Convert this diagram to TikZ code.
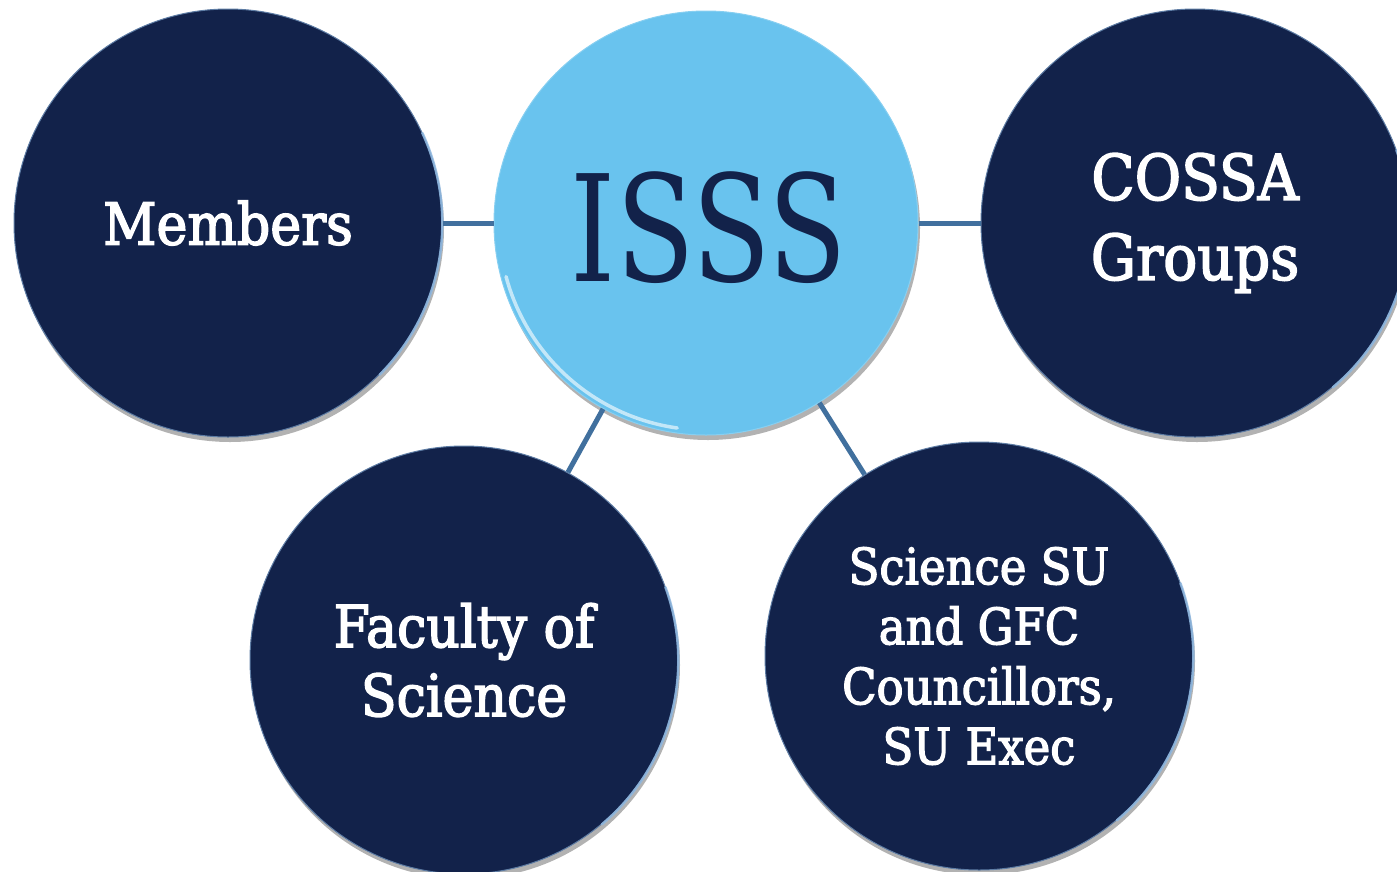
\documentclass[tikz,border=0pt]{standalone}
\usepackage{fontspec}
\usepackage{graphicx}
\setmainfont{DejaVu Serif Condensed}
\newfontfamily\semibold[FakeBold=2.5]{DejaVu Serif Condensed}
\usetikzlibrary{shadows}
\definecolor{navy}{HTML}{12224A}
\definecolor{sky}{HTML}{69C3EE}
\definecolor{linkc}{HTML}{41709E}
\definecolor{rim}{HTML}{8FB8E0}
\begin{document}
\begin{tikzpicture}[x=1pt,y=1pt,
  bubble/.style={circle,minimum size=428pt,inner sep=0pt,fill=navy,text=white,align=center,
    draw=rim!60!navy,line width=1pt,
    drop shadow={shadow xshift=2pt,shadow yshift=-5pt,opacity=0.3,fill=black}},
  hub/.style={bubble,fill=sky,text=navy,draw=sky!80!white,minimum size=424pt},
  link/.style={draw=linkc,line width=5pt},
  rimarc/.style={draw=rim,line width=2.5pt,line cap=round,opacity=0.85},
  glow/.style={draw=white,line width=3.5pt,line cap=round,opacity=0.6}]
\useasboundingbox (0,0) rectangle (1397,-871);
\node[bubble,font=\semibold\fontsize{58}{70}\selectfont] (members) at (228,-223) {Members};
\node[hub] (isss) at (706,-223) {};
\node[text=navy,font=\fontsize{148}{150}\selectfont] (isssLabel) at (709,-228) {\scalebox{0.86}[1]{ISSS}};
\node[bubble,font=\semibold\fontsize{63}{80}\selectfont] (cossa) at (1195,-223) {COSSA\\Groups};
\node[bubble,font=\semibold\fontsize{58}{69}\selectfont] (faculty) at (464,-660) {Faculty of\\Science};
\node[bubble,font=\semibold\fontsize{50}{60}\selectfont] (scisu) at (979,-656) {Science SU\\and GFC\\Councillors,\\SU Exec};
\draw[rimarc] (members.-45) arc[start angle=-45,end angle=25,radius=214];
\draw[rimarc] (cossa.-50) arc[start angle=-50,end angle=20,radius=214];
\draw[rimarc] (faculty.-50) arc[start angle=-50,end angle=20,radius=214];
\draw[rimarc] (scisu.-50) arc[start angle=-50,end angle=20,radius=214];
\draw[glow] ([shift={(195:207)}]isss.center) arc[start angle=195,end angle=262,radius=207];
\draw[link] (members.east) -- (isss.west);
\draw[link] (isss.east) -- (cossa.west);
\draw[link] (isss) -- (faculty);
\draw[link] (isss) -- (scisu);
\end{tikzpicture}
\end{document}
